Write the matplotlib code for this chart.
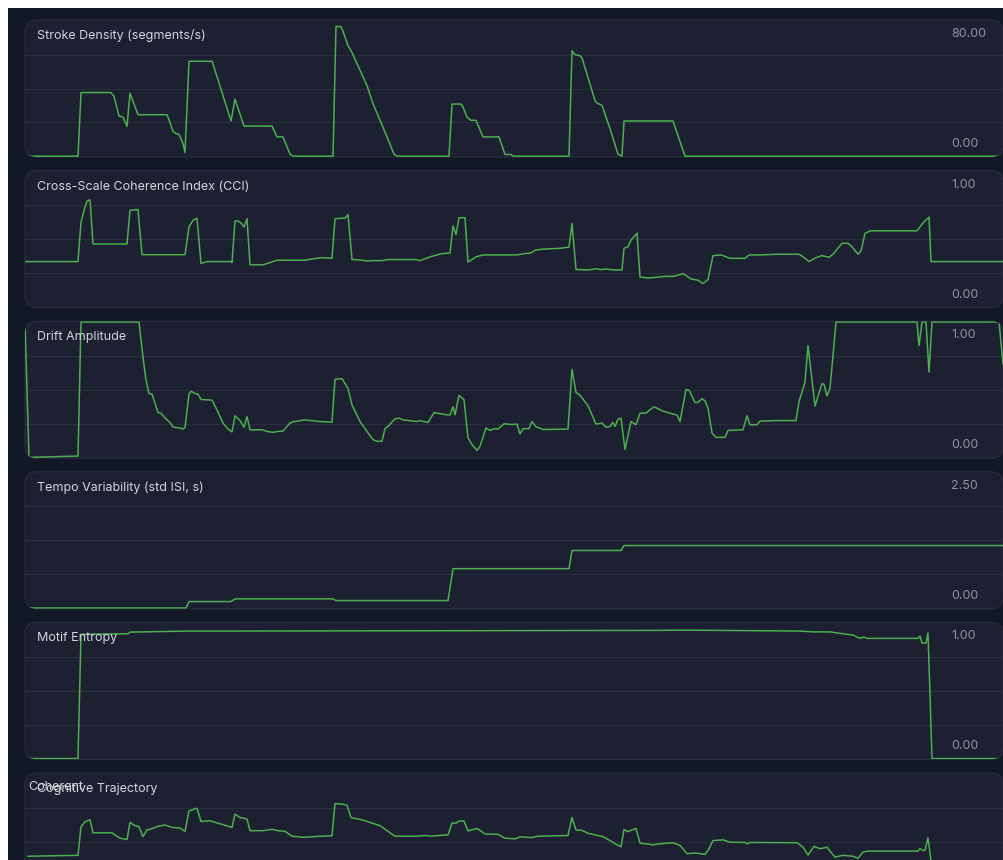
import numpy as np
import matplotlib
matplotlib.use("Agg")
import matplotlib.pyplot as plt
from matplotlib.patches import FancyBboxPatch, Rectangle

plt.rcParams['font.family'] = ['Inter', 'DejaVu Sans']

# time (s) / value pairs
STROKE_DENSITY = [
    (0, 0), (5.3, 0), (5.6, 37.6), (8.6, 37.6), (8.9, 35.3), (9.4, 23.7), (9.8, 23.1),
    (10.2, 17.6), (10.5, 37.2), (11.3, 24.5), (14.2, 24.5), (14.4, 21.6), (14.8, 14.7),
    (15.1, 13.3), (15.4, 12.9), (15.8, 7.5), (16.0, 2.2), (16.4, 56.1), (18.7, 56.1),
    (18.8, 54.5), (20.6, 20.8), (21.0, 33.7), (21.9, 17.8), (24.7, 17.8), (25.2, 11.4),
    (25.8, 11.4), (26.5, 1.2), (26.8, 0), (30.8, 0), (31.1, 76.6), (31.6, 76.6),
    (31.9, 72.2), (32.3, 65.3), (32.6, 62.4), (34.2, 41.8), (34.8, 31.0), (35.3, 24.1),
    (36.2, 11.4), (36.9, 1.2), (37.2, 0), (42.4, 0), (42.7, 30.8), (43.6, 30.8),
    (43.8, 29.0), (44.2, 23.1), (44.6, 21.2), (45.1, 21.2), (45.8, 11.4), (47.4, 11.4),
    (48.0, 1.0), (48.6, 1.0), (48.8, 0), (54.4, 0), (54.7, 62.4), (55.0, 60.0),
    (55.5, 59.4), (55.7, 58.0), (57.0, 32.9), (57.2, 31.4), (57.7, 30.0), (58.5, 16.3),
    (59.3, 1.2), (59.7, 0), (59.9, 20.8), (64.8, 20.8), (66.0, 0), (97.9, 0),
]

CCI = [
    (0, 0.334), (5.3, 0.334), (5.6, 0.626), (6.0, 0.736), (6.2, 0.780), (6.5, 0.790),
    (6.8, 0.464), (10.2, 0.464), (10.5, 0.712), (11.3, 0.719), (11.7, 0.385), (16.0, 0.385),
    (16.4, 0.590), (16.8, 0.639), (17.2, 0.655), (17.6, 0.320), (18.2, 0.334), (20.6, 0.334),
    (20.7, 0.327), (21.0, 0.634), (21.3, 0.634), (21.6, 0.619), (21.9, 0.590), (22.2, 0.651),
    (22.5, 0.310), (23.8, 0.310), (24.3, 0.322), (25.0, 0.339), (25.2, 0.344), (28.0, 0.344),
    (28.7, 0.354), (29.7, 0.363), (30.7, 0.358), (31.0, 0.651), (32.0, 0.655), (32.3, 0.680),
    (32.7, 0.349), (33.3, 0.347), (34.2, 0.339), (34.8, 0.341), (35.7, 0.341), (36.3, 0.349),
    (39.1, 0.349), (39.5, 0.341), (40.6, 0.371), (41.7, 0.393), (42.5, 0.397), (42.8, 0.597),
    (43.1, 0.534), (43.4, 0.658), (44.0, 0.658), (44.3, 0.330), (45.1, 0.369), (45.8, 0.383),
    (49.2, 0.383), (49.9, 0.393), (50.5, 0.396), (51.1, 0.420), (52.0, 0.427), (53.5, 0.432),
    (54.4, 0.441), (54.7, 0.615), (55.1, 0.276), (56.3, 0.272), (57.2, 0.281), (57.6, 0.274),
    (58.0, 0.279), (58.9, 0.272), (59.7, 0.272), (59.9, 0.432), (60.3, 0.444), (60.6, 0.493),
    (61.2, 0.544), (61.5, 0.220), (62.3, 0.213), (63.2, 0.218), (64.0, 0.225), (64.9, 0.225),
    (65.8, 0.245), (66.6, 0.206), (67.3, 0.196), (67.8, 0.172), (68.3, 0.201), (68.8, 0.378),
    (69.6, 0.383), (70.5, 0.358), (72.0, 0.358), (72.4, 0.383), (73.5, 0.383), (75.2, 0.388),
    (77.4, 0.388), (77.8, 0.370), (78.4, 0.334), (79.1, 0.363), (79.7, 0.378), (80.4, 0.366),
    (80.8, 0.388), (81.7, 0.469), (82.3, 0.469), (82.7, 0.444), (83.3, 0.388), (83.6, 0.412),
    (84.0, 0.542), (84.5, 0.561), (89.2, 0.561), (89.8, 0.619), (90.4, 0.663), (90.6, 0.334),
    (97.9, 0.334),
]

DRIFT = [
    (0, 1.0), (0.4, 0.0), (5.3, 0.01), (5.6, 1.0), (11.4, 1.0), (11.8, 0.739), (12.1, 0.569),
    (12.4, 0.472), (12.7, 0.467), (13.0, 0.399), (13.3, 0.331), (13.6, 0.326), (14.2, 0.277),
    (14.5, 0.258), (14.8, 0.224), (15.5, 0.217), (15.8, 0.210), (16.0, 0.221), (16.4, 0.467),
    (16.6, 0.489), (17.0, 0.472), (17.3, 0.467), (17.6, 0.428), (18.7, 0.423), (19.2, 0.350),
    (19.8, 0.253), (20.3, 0.210), (20.7, 0.188), (21.0, 0.307), (21.5, 0.272), (21.9, 0.224),
    (22.2, 0.302), (22.5, 0.204), (23.7, 0.204), (24.2, 0.192), (24.8, 0.185), (25.3, 0.192),
    (25.8, 0.195), (26.5, 0.253), (26.8, 0.263), (28.0, 0.277), (29.5, 0.265), (30.7, 0.260),
    (31.0, 0.577), (31.7, 0.582), (32.3, 0.509), (32.7, 0.387), (33.5, 0.265), (34.2, 0.192),
    (34.8, 0.131), (35.2, 0.119), (35.7, 0.119), (36.0, 0.212), (36.3, 0.229), (37.0, 0.285),
    (37.4, 0.290), (37.8, 0.277), (39.2, 0.265), (39.5, 0.272), (40.3, 0.258), (40.9, 0.331),
    (41.5, 0.323), (42.2, 0.314), (42.5, 0.314), (42.8, 0.374), (43.0, 0.314), (43.4, 0.458),
    (43.9, 0.426), (44.3, 0.144), (44.7, 0.095), (45.2, 0.051), (45.5, 0.083), (46.1, 0.217),
    (46.5, 0.199), (46.9, 0.212), (47.3, 0.209), (47.9, 0.248), (48.7, 0.243), (49.2, 0.246),
    (49.5, 0.173), (49.8, 0.212), (50.4, 0.212), (50.7, 0.265), (51.1, 0.226), (51.8, 0.206),
    (54.3, 0.209), (54.7, 0.650), (55.1, 0.479), (55.5, 0.460), (56.3, 0.382), (57.1, 0.246),
    (57.7, 0.253), (58.1, 0.223), (58.5, 0.228), (58.8, 0.258), (59.0, 0.228), (59.3, 0.282),
    (59.6, 0.290), (60.0, 0.058), (60.6, 0.265), (61.1, 0.241), (61.5, 0.326), (62.1, 0.328),
    (62.9, 0.374), (63.7, 0.345), (64.5, 0.326), (65.2, 0.312), (65.5, 0.265), (66.1, 0.501),
    (66.4, 0.496), (67.0, 0.406), (67.3, 0.406), (67.7, 0.433), (68.0, 0.418), (68.3, 0.363),
    (68.7, 0.180), (69.1, 0.148), (70.0, 0.148), (70.3, 0.199), (71.8, 0.204), (72.2, 0.307),
    (72.5, 0.241), (73.2, 0.241), (73.5, 0.268), (75.2, 0.272), (77.1, 0.272), (77.4, 0.411),
    (78.0, 0.557), (78.3, 0.825), (79.0, 0.380), (79.7, 0.545), (79.9, 0.540), (80.2, 0.453),
    (80.5, 0.509), (81.1, 1.0), (89.2, 1.0), (89.4, 0.825), (89.7, 1.0), (90.1, 1.0),
    (90.4, 0.630), (90.7, 1.0), (97.4, 1.0), (97.8, 0.691),
]

TEMPO = [
    (0, 0), (16.1, 0), (16.4, 0.119), (20.6, 0.119), (21.0, 0.168), (30.8, 0.168),
    (31.1, 0.137), (42.3, 0.137), (42.8, 0.726), (54.4, 0.726), (54.7, 1.062),
    (59.6, 1.062), (59.9, 1.153), (97.9, 1.153),
]

MOTIF_ENTROPY = [
    (0, 0), (5.3, 0), (5.6, 0.918), (10.3, 0.922), (10.5, 0.934), (16.2, 0.942),
    (20.8, 0.942), (63.5, 0.947), (65.8, 0.949), (77.5, 0.942), (78.8, 0.936),
    (80.5, 0.936), (81.5, 0.925), (82.8, 0.912), (83.5, 0.888), (83.9, 0.898),
    (84.2, 0.888), (89.3, 0.888), (89.5, 0.905), (89.7, 0.854), (90.1, 0.854),
    (90.3, 0.929), (90.7, 0), (97.9, 0),
]

TRAJECTORY = [
    (0.3, 0.391), (5.3, 0.398), (5.6, 0.609), (6.0, 0.646), (6.5, 0.661), (6.8, 0.564),
    (8.7, 0.564), (9.5, 0.524), (10.2, 0.515), (10.5, 0.641), (11.0, 0.617), (11.4, 0.609),
    (11.8, 0.536), (12.2, 0.585), (12.8, 0.597), (13.3, 0.612), (14.0, 0.622), (14.7, 0.604),
    (15.5, 0.600), (16.0, 0.575), (16.4, 0.726), (17.2, 0.746), (17.6, 0.648), (18.5, 0.653),
    (20.7, 0.604), (21.0, 0.702), (21.5, 0.677), (22.2, 0.666), (22.5, 0.580), (23.8, 0.580),
    (24.7, 0.590), (25.3, 0.580), (26.0, 0.575), (26.7, 0.539), (27.8, 0.531), (29.5, 0.539),
    (30.7, 0.542), (31.0, 0.780), (31.8, 0.775), (32.2, 0.768), (32.6, 0.677), (33.8, 0.658),
    (35.5, 0.617), (37.0, 0.539), (39.0, 0.539), (40.2, 0.544), (40.5, 0.539), (42.3, 0.549),
    (42.7, 0.636), (43.1, 0.636), (43.4, 0.651), (43.9, 0.651), (44.3, 0.578), (45.2, 0.597),
    (46.0, 0.556), (47.3, 0.553), (48.0, 0.524), (49.0, 0.520), (49.5, 0.534), (50.7, 0.529),
    (51.3, 0.539), (54.3, 0.544), (54.7, 0.677), (55.1, 0.585), (55.7, 0.582), (56.3, 0.561),
    (57.0, 0.549), (57.8, 0.536), (58.5, 0.507), (59.2, 0.476), (59.6, 0.461), (59.9, 0.588),
    (60.3, 0.573), (61.1, 0.597), (61.5, 0.488), (62.8, 0.476), (63.5, 0.483), (64.8, 0.491),
    (65.5, 0.471), (66.2, 0.410), (67.0, 0.415), (68.0, 0.405), (68.3, 0.434), (68.8, 0.507),
    (69.8, 0.512), (70.5, 0.495), (72.0, 0.493), (72.2, 0.483), (72.5, 0.493), (77.2, 0.491),
    (77.8, 0.458), (78.3, 0.400), (78.9, 0.464), (79.5, 0.447), (80.2, 0.458), (80.5, 0.429),
    (81.0, 0.385), (81.8, 0.398), (82.8, 0.391), (83.3, 0.376), (83.8, 0.422), (84.3, 0.429),
    (89.3, 0.429), (89.5, 0.447), (89.8, 0.434), (90.0, 0.434), (90.3, 0.527), (90.7, 0.30),
    (97.9, 0.30),
]

TITLES = [
    "Stroke Density (segments/s)",
    "Cross-Scale Coherence Index (CCI)",
    "Drift Amplitude",
    "Tempo Variability (std ISI, s)",
    "Motif Entropy",
    "Cognitive Trajectory",
]
SERIES = [STROKE_DENSITY, CCI, DRIFT, TEMPO, MOTIF_ENTROPY, TRAJECTORY]
Y_MAX = [80, 1, 1, 2.5, 1, 1]
SHOW_RANGE = [True, True, True, True, True, False]

PAGE_BG = "#131826"
PANEL_BG = "#1c2030"
PANEL_EDGE = "#2a2f3f"
GRID = "#292e3c"
LINE = "#4caf50"
TITLE_COLOR = "#d3d6dc"
LABEL_COLOR = "#8e94a2"

W, H = 1004, 860
fig = plt.figure(figsize=(W / 100, H / 100), dpi=100)
fig.patch.set_facecolor("white")
fig.add_artist(Rectangle((0.08, 0), (W - 8) / 100, (H - 8) / 100,
                         transform=fig.dpi_scale_trans, facecolor=PAGE_BG,
                         edgecolor="none", zorder=0))

left, width, height = 25, 978, 137
for i, (title, data, ymax, show) in enumerate(zip(TITLES, SERIES, Y_MAX, SHOW_RANGE)):
    top = 20 + i * 150.6
    bottom_in = (H - top - height) / 100

    panel = FancyBboxPatch((left / 100, bottom_in), width / 100, height / 100,
                           boxstyle="round,pad=0,rounding_size=0.12",
                           transform=fig.dpi_scale_trans, facecolor=PANEL_BG,
                           edgecolor=PANEL_EDGE, linewidth=0.8, zorder=1)
    fig.add_artist(panel)

    ax = fig.add_axes([left / W, (H - top - height) / H, width / W, height / H])
    ax.set_facecolor("none")
    ax.set_zorder(2)
    for s in ax.spines.values():
        s.set_visible(False)
    ax.set_xticks([])
    ax.set_yticks([])
    ax.set_xlim(0, 97.8)
    ax.set_ylim(-0.006 * ymax, ymax * 1.006)

    for frac in (0.25, 0.5, 0.75):
        ax.axhline(frac * ymax, color=GRID, lw=0.8, zorder=1)

    t = [p[0] for p in data]
    v = [min(p[1], ymax) for p in data]
    line, = ax.plot(t, v, color=LINE, lw=1.1, zorder=3, solid_joinstyle="round")
    line.set_clip_path(panel)

    ax.text(0.0123, 1 - 16 / height, title, transform=ax.transAxes, fontsize=9,
            color=TITLE_COLOR, va="center", ha="left", zorder=4)
    if i == 5:
        ax.text(0.003, 1 - 14.5 / height, "Coherent", transform=ax.transAxes,
                fontsize=9, color=TITLE_COLOR, va="center", ha="left", zorder=4)
    if show:
        ax.text((951 - left) / width, 1 - 14 / height, f"{ymax:.2f}",
                transform=ax.transAxes, fontsize=9, color=LABEL_COLOR,
                va="center", ha="left", zorder=4)
        ax.text((951 - left) / width, 13 / height, "0.00",
                transform=ax.transAxes, fontsize=9, color=LABEL_COLOR,
                va="center", ha="left", zorder=4)

fig.savefig("out.png", dpi=100, facecolor=fig.get_facecolor())
